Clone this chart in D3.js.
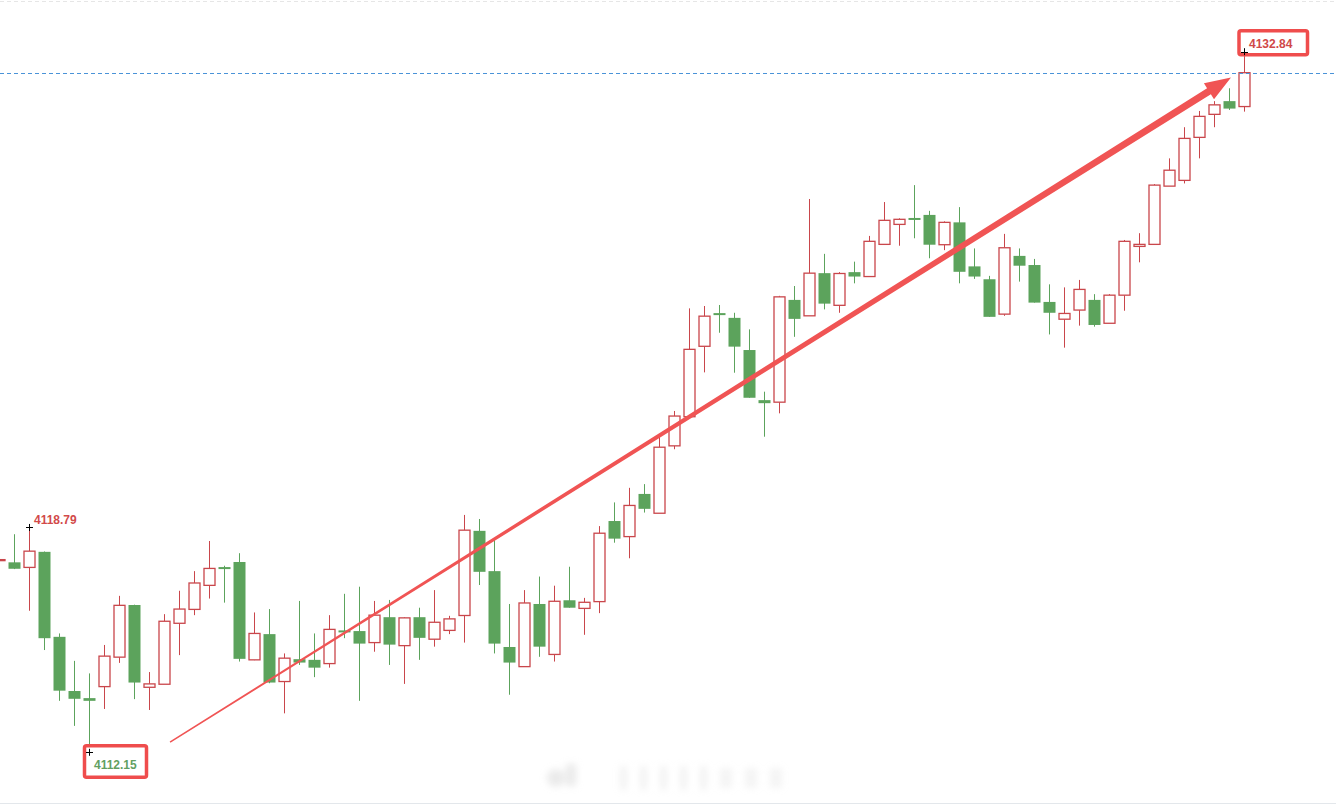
<!DOCTYPE html>
<html>
<head>
	<meta charset="utf-8">
	<title>K-line</title>
	<script src="https://d3js.org/d3.v7.min.js"></script>
	<style>
		html, body { margin: 0; padding: 0; background: #fff; }
		svg { display: block; }
		.lbl { font-family: "Liberation Sans", Arial, sans-serif; font-weight: bold; font-size: 12px; }
	</style>
</head>
<body>
<svg id="chart" width="1336" height="806"></svg>
<script>
	// candle data, oldest first
	var open = [
		4117.81,4117.76,4117.61,4118.07,4115.56,4113.96,4113.75,4114.09,4114.96,4116.50,
		4114.07,4114.16,4115.96,4116.37,4117.08,4117.62,4117.77,4114.88,4115.64,4114.24,
		4114.90,4114.88,4114.77,4115.75,4115.73,4115.39,4116.14,4115.30,4116.14,4115.49,
		4115.75,4116.19,4118.69,4117.50,4115.26,4114.68,4116.53,4115.04,4116.64,4116.40,
		4116.60,4118.98,4118.52,4119.78,4119.21,4121.20,4122.06,4124.14,4125.12,4124.98,
		4124.03,4122.55,4122.49,4125.51,4125.04,4126.30,4125.35,4126.33,4126.20,4127.15,
		4127.74,4127.93,4128.02,4127.14,4127.80,4126.50,4126.12,4125.09,4126.81,4126.54,
		4125.45,4124.94,4125.21,4125.51,4124.82,4125.65,4127.09,4127.15,4128.87,4129.04,
		4130.31,4130.99,4131.38,4131.22];
	var high = [
		4117.95,4118.59,4118.79,4118.08,4115.66,4114.85,4114.48,4115.32,4116.77,4116.51,
		4114.52,4116.23,4116.92,4117.50,4118.39,4117.66,4118.03,4116.28,4116.38,4115.07,
		4116.62,4115.66,4116.20,4116.83,4117.04,4116.62,4116.65,4116.14,4116.42,4116.94,
		4116.18,4119.16,4119.04,4118.42,4116.53,4116.94,4117.34,4117.07,4117.63,4116.71,
		4118.83,4119.53,4119.96,4120.07,4121.47,4122.23,4125.26,4125.33,4125.36,4125.13,
		4124.64,4122.80,4125.63,4125.92,4128.49,4126.87,4126.33,4126.64,4127.40,4128.40,
		4127.92,4128.90,4128.14,4127.83,4128.25,4127.03,4126.22,4127.46,4127.03,4126.72,
		4125.97,4125.88,4126.10,4125.68,4125.68,4127.28,4127.48,4128.93,4129.69,4130.61,
		4131.09,4131.38,4131.76,4132.84];
	var low = [
		4117.68,4117.56,4116.33,4115.17,4113.67,4112.93,4112.15,4113.43,4114.79,4113.72,
		4113.40,4114.16,4115.02,4116.20,4116.69,4116.57,4114.83,4114.87,4114.19,4113.30,
		4114.73,4114.37,4114.65,4115.52,4113.67,4115.12,4114.73,4114.17,4114.88,4115.27,
		4115.64,4115.39,4117.09,4115.07,4113.85,4114.68,4114.97,4114.83,4116.42,4115.62,
		4116.26,4118.34,4117.88,4119.23,4119.21,4121.10,4122.06,4123.37,4124.54,4123.36,
		4122.62,4121.47,4122.16,4124.42,4125.04,4125.23,4125.13,4126.00,4126.20,4127.15,
		4127.11,4127.33,4126.74,4126.98,4126.00,4126.13,4125.01,4125.04,4126.05,4125.43,
		4124.49,4124.10,4124.75,4124.72,4124.82,4125.19,4126.62,4127.15,4128.87,4128.95,
		4129.69,4130.61,4131.12,4131.07];
	var close = [
		4117.84,4117.57,4118.09,4115.52,4113.97,4113.73,4113.67,4114.99,4116.49,4114.21,
		4114.17,4116.02,4116.38,4117.15,4117.58,4117.57,4114.91,4115.66,4114.21,4114.93,
		4114.80,4114.65,4115.78,4115.70,4115.36,4116.20,4115.33,4116.12,4115.53,4115.99,
		4116.09,4118.71,4117.48,4115.36,4114.80,4116.56,4115.27,4116.61,4116.42,4116.58,
		4118.62,4118.46,4119.44,4119.34,4121.16,4122.08,4124.05,4125.03,4125.09,4124.13,
		4122.62,4122.46,4125.60,4124.95,4126.30,4125.40,4126.29,4126.20,4127.24,4127.86,
		4127.89,4127.90,4127.14,4127.80,4126.34,4126.20,4125.01,4127.05,4126.52,4125.43,
		4125.13,4125.11,4125.82,4124.77,4125.65,4127.24,4127.15,4128.90,4129.34,4130.28,
		4130.93,4131.27,4131.16,4132.22];

	// marked extremes: [candle index, price, kind]
	var marks = [[2, 4118.79, 'plain'], [6, 4112.15, 'boxLow'], [83, 4132.84, 'boxHigh']];
	// trend arrow, from [index, price] to [index, price]
	var arrowFrom = [11.37, 4112.45];
	var arrowTo = [82.1, 4132.08];

	const RED = '#c9464b';
	const GREEN = '#5ca35c';
	const BOXRED = '#ef4d4d';

	var svg = d3.select('#chart');
	var W = 1336, H = 806;

	var x = d3.scaleLinear().domain([0, open.length - 1]).range([-0.5, 1244.5]);
	var y = d3.scaleLinear().domain([4112.15, 4132.84]).range([752.3, 51.7]);

	// frame lines
	svg.append('line').attr('x1', 0).attr('x2', W).attr('y1', 1.5).attr('y2', 1.5)
		.attr('stroke', '#e6e6e6').attr('stroke-dasharray', '4,3');
	svg.append('line').attr('x1', 0).attr('x2', W).attr('y1', 803.5).attr('y2', 803.5)
		.attr('stroke', '#e3e7eb');

	// faint blurred watermark at the bottom
	var blur = svg.append('defs').append('filter').attr('id', 'wmblur')
		.attr('x', '-50%').attr('y', '-50%').attr('width', '200%').attr('height', '200%');
	blur.append('feGaussianBlur').attr('stdDeviation', 3.5);
	var wm = svg.append('g').attr('filter', 'url(#wmblur)').attr('fill', '#d6d6d6').attr('opacity', 0.5);
	wm.append('circle').attr('cx', 556).attr('cy', 778).attr('r', 9);
	wm.append('rect').attr('x', 566).attr('y', 764).attr('width', 10).attr('height', 22);
	[620, 640, 660, 680, 700].forEach(function(px) {
		wm.append('rect').attr('x', px).attr('y', 766).attr('width', 7).attr('height', 24).attr('opacity', 0.6);
	});
	[720, 745, 770].forEach(function(px) {
		wm.append('rect').attr('x', px).attr('y', 768).attr('width', 12).attr('height', 20).attr('opacity', 0.5);
	});

	var idx = d3.range(open.length);
	var candles = svg.append('g').attr('class', 'candles');

	idx.forEach(function(i) {
		var cx = x(i);
		var up = close[i] >= open[i];
		var top = y(Math.max(open[i], close[i]));
		var bot = y(Math.min(open[i], close[i]));
		var g = candles.append('g');
		if (up) {
			g.append('line').attr('x1', cx).attr('x2', cx).attr('y1', y(high[i])).attr('y2', top)
				.attr('stroke', RED);
			g.append('line').attr('x1', cx).attr('x2', cx).attr('y1', bot).attr('y2', y(low[i]))
				.attr('stroke', RED);
			g.append('rect')
				.attr('x', cx - 5.5).attr('y', top)
				.attr('width', 11).attr('height', Math.max(bot - top, 1))
				.attr('fill', '#fff').attr('stroke', RED).attr('stroke-width', 1.3);
		} else {
			g.append('line').attr('x1', cx).attr('x2', cx).attr('y1', y(high[i])).attr('y2', y(low[i]))
				.attr('stroke', GREEN);
			g.append('rect')
				.attr('x', cx - 6).attr('y', top)
				.attr('width', 12).attr('height', Math.max(bot - top, 2))
				.attr('fill', GREEN);
		}
	});

	// last close dashed line
	var last = close[close.length - 1];
	svg.append('line')
		.attr('x1', 0).attr('x2', W)
		.attr('y1', Math.round(y(last)) + 0.5).attr('y2', Math.round(y(last)) + 0.5)
		.attr('stroke', '#4a93d8').attr('stroke-width', 1.2).attr('stroke-dasharray', '4,3');

	// tapered trend arrow
	var ax0 = x(arrowFrom[0]), ay0 = y(arrowFrom[1]);
	var ax1 = x(arrowTo[0]), ay1 = y(arrowTo[1]);
	var len = Math.hypot(ax1 - ax0, ay1 - ay0);
	var ux = (ax1 - ax0) / len, uy = (ay1 - ay0) / len;
	var nx = -uy, ny = ux;
	var headLen = 26, headHalf = 9.5, tailHalf = 0.75, neckHalf = 3.6;
	var bx = ax1 - ux * headLen, by = ay1 - uy * headLen;
	var pts = [
		[ax0 + nx * tailHalf, ay0 + ny * tailHalf],
		[bx + nx * neckHalf, by + ny * neckHalf],
		[bx + nx * headHalf, by + ny * headHalf],
		[ax1, ay1],
		[bx - nx * headHalf, by - ny * headHalf],
		[bx - nx * neckHalf, by - ny * neckHalf],
		[ax0 - nx * tailHalf, ay0 - ny * tailHalf]
	];
	svg.append('path')
		.attr('d', d3.line()(pts) + 'Z')
		.attr('fill', '#f05454');

	// extreme markers and labels
	marks.forEach(function(m) {
		var cx = x(m[0]), cy = y(m[1]);
		var txt = m[1].toFixed(2);
		if (m[2] === 'boxLow') {
			svg.append('rect').attr('x', cx - 5).attr('y', cy - 6.5).attr('width', 62).attr('height', 31.5)
				.attr('rx', 2).attr('fill', '#fff').attr('stroke', BOXRED).attr('stroke-width', 3.5);
			svg.append('text').attr('class', 'lbl').attr('x', cx + 4.5).attr('y', cy + 17)
				.attr('fill', '#62a062').text(txt);
		} else if (m[2] === 'boxHigh') {
			svg.append('rect').attr('x', cx - 5.5).attr('y', cy - 21).attr('width', 68.5).attr('height', 24)
				.attr('rx', 2).attr('fill', '#fff').attr('stroke', BOXRED).attr('stroke-width', 3.5);
			svg.append('text').attr('class', 'lbl').attr('x', cx + 4.5).attr('y', cy - 4)
				.attr('fill', '#d04848').text(txt);
		} else {
			svg.append('text').attr('class', 'lbl').attr('x', cx + 4.5).attr('y', cy - 3)
				.attr('fill', '#d24a4a').text(txt);
		}
		// small cross on the extreme
		svg.append('line').attr('x1', cx - 3.5).attr('x2', cx + 3.5).attr('y1', Math.round(cy) + 0.5).attr('y2', Math.round(cy) + 0.5)
			.attr('stroke', '#000');
		svg.append('line').attr('x1', cx).attr('x2', cx).attr('y1', cy - 3.5).attr('y2', cy + 3.5)
			.attr('stroke', '#000');
	});
</script>
</body>
</html>
